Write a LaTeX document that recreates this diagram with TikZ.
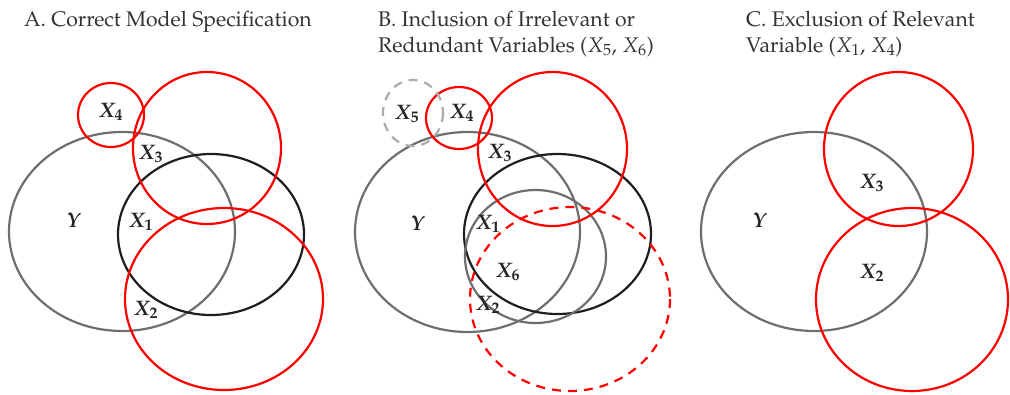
\documentclass[tikz,border=0pt]{standalone}
\usepackage[T1]{fontenc}
\usepackage{mathpazo}
\usepackage{xcolor}
\definecolor{setred}{HTML}{FF0000}
\definecolor{setgray}{HTML}{6E6E6E}
\definecolor{setblack}{HTML}{1E1E1E}
\definecolor{setlight}{HTML}{ABABAB}

\begin{document}
\begin{tikzpicture}[
    x=1pt, y=-1pt,
    venn/.style={line width=2.2pt},
    yset/.style={venn, draw=setgray},
    xset/.style={venn, draw=setblack},
    redset/.style={venn, draw=setred},
    extra/.style={dash pattern=on 9pt off 7pt},
    lbl/.style={font=\fontsize{21}{25}\selectfont\boldmath, text=black!85, inner sep=0pt},
    title/.style={font=\fontsize{21.2}{25.3}\selectfont, text=black!80, align=left, anchor=base west, inner sep=0pt},
]
\useasboundingbox (0,0) rectangle (1010,394);

\node [title] (titleA) at (24,26.5) {A. Correct Model Specification};
\node [title] (titleB) at (378,52) {B. Inclusion of Irrelevant or\\Redundant Variables ($X_5$, $X_6$)};
\node [title] (titleC) at (746,52) {C. Exclusion of Relevant\\Variable ($X_1$, $X_4$)};

% A
\draw [yset] (122,231.5) ellipse [x radius=113, y radius=99.5];
\draw [xset] (211,234.5) ellipse [x radius=93, y radius=80.5];
\draw [redset] (207,148) ellipse [x radius=74, y radius=76];
\draw [redset] (111,115) ellipse [x radius=33, y radius=32];
\draw [redset] (224,299) ellipse [x radius=99, y radius=91];
\node [lbl] (yA) at (74,220) {$Y$};
\node [lbl] (x1A) at (141,222) {$X_1$};
\node [lbl] (x2A) at (146,310) {$X_2$};
\node [lbl] (x3A) at (151,154) {$X_3$};
\node [lbl] (x4A) at (111,112) {$X_4$};

% B
\draw [yset] (467.5,232) ellipse [x radius=112.5, y radius=100];
\draw [xset] (557.5,234) ellipse [x radius=93.5, y radius=80];
\draw [yset] (535.5,256.5) ellipse [x radius=70.5, y radius=66.5];
\draw [redset] (552.5,149) ellipse [x radius=74.5, y radius=77];
\draw [redset] (459,118) ellipse [x radius=33, y radius=31];
\draw [venn, draw=setlight, extra] (413,113) ellipse [x radius=30, y radius=33];
\draw [redset, extra] (570,299) ellipse [x radius=100, y radius=92];
\node [lbl] (yB) at (418,223) {$Y$};
\node [lbl] (x1B) at (488,224) {$X_1$};
\node [lbl] (x2B) at (488,305) {$X_2$};
\node [lbl] (x3B) at (500,153) {$X_3$};
\node [lbl] (x4B) at (462,113) {$X_4$};
\node [lbl] (x5B) at (407,114) {$X_5$};
\node [lbl] (x6B) at (508,272) {$X_6$};

% C
\draw [yset] (814,231.5) ellipse [x radius=113, y radius=99.5];
\draw [redset] (898.5,149) ellipse [x radius=74.5, y radius=77];
\draw [redset] (912,299.5) ellipse [x radius=96, y radius=91.5];
\node [lbl] (yC) at (760,220) {$Y$};
\node [lbl] (x2C) at (872,273) {$X_2$};
\node [lbl] (x3C) at (872,183) {$X_3$};
\end{tikzpicture}
\end{document}
